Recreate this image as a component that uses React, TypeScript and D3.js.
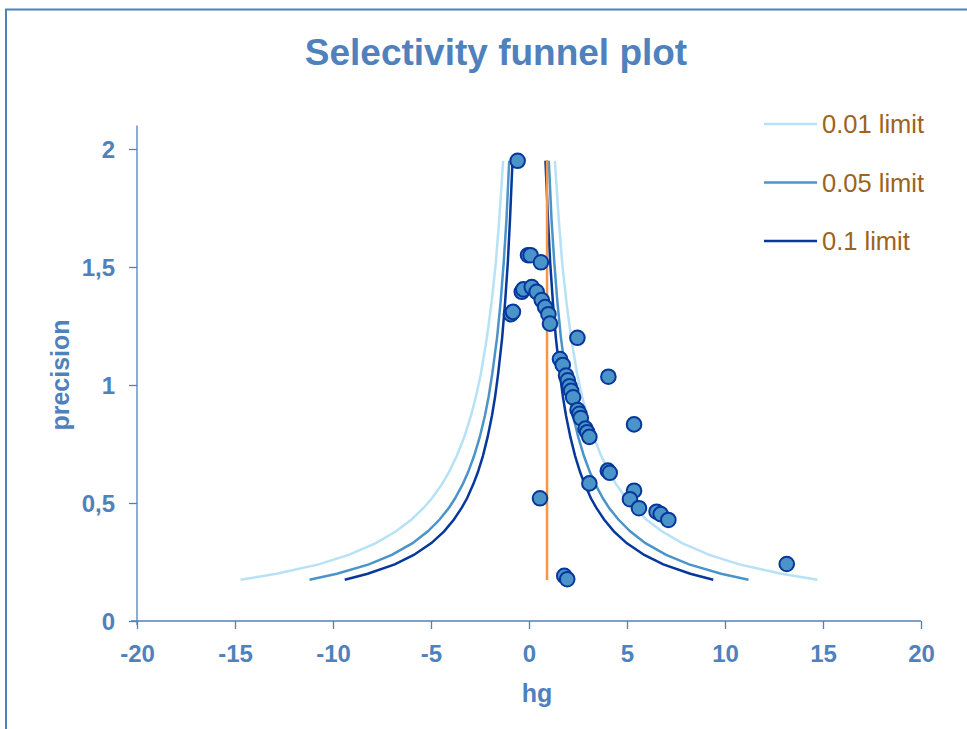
import React, { useRef, useEffect } from "react";
import * as d3 from "d3";

// study estimates: hg (effect) and precision
const studyHg = [
  -0.58, -0.05, 0.08, 0.61, -0.37, -0.29, 0.14, 0.39, 0.65, 0.82, 0.99, 1.07,
  -0.92, -0.82, 2.47, 1.58, 1.72, 1.89, 1.98, 2.07, 2.15, 2.25, 2.48, 2.57,
  2.64, 2.88, 2.97, 3.08, 4.05, 5.36, 4.02, 4.12, 3.08, 0.56, 5.36, 5.15,
  5.61, 6.51, 6.72, 7.11, 1.8, 1.95, 13.15,
];
const studyPrecision = [
  1.95, 1.55, 1.55, 1.52, 1.395, 1.405, 1.415, 1.395, 1.36, 1.33, 1.3, 1.26,
  1.3, 1.31, 1.2, 1.11, 1.085, 1.04, 1.02, 0.995, 0.975, 0.948, 0.894, 0.878,
  0.86, 0.815, 0.8, 0.78, 1.035, 0.833, 0.637, 0.628, 0.583, 0.52, 0.552, 0.516,
  0.478, 0.463, 0.453, 0.428, 0.191, 0.177, 0.2415,
];

// funnel limits: half-width of each limit at these precision levels
const limitPrecision = [
  0.175, 0.2, 0.24, 0.28, 0.33, 0.38, 0.43, 0.48, 0.52, 0.58, 0.63, 0.7, 0.78,
  0.87, 0.95, 1.05, 1.2, 1.35, 1.52, 1.7, 1.95,
];
const limit001 = [
  14.72, 12.88, 10.73, 9.2, 7.81, 6.78, 5.99, 5.37, 4.95, 4.44, 4.09, 3.68, 3.3,
  2.96, 2.71, 2.45, 2.15, 1.91, 1.69, 1.52, 1.32,
];
const limit005 = [
  11.2, 9.8, 8.17, 7.0, 5.94, 5.16, 4.56, 4.08, 3.77, 3.38, 3.11, 2.8, 2.51,
  2.25, 2.06, 1.87, 1.63, 1.45, 1.29, 1.15, 1.01,
];
const limit01 = [
  9.4, 8.23, 6.85, 5.88, 4.98, 4.33, 3.83, 3.43, 3.16, 2.84, 2.61, 2.35, 2.11,
  1.89, 1.73, 1.57, 1.37, 1.22, 1.08, 0.97, 0.84,
];
const meanHg = 0.92;
const meanRange = [0.174, 1.953];

const legendLabels = ["0.01 limit", "0.05 limit", "0.1 limit"];
const xTicks = [-20, -15, -10, -5, 0, 5, 10, 15, 20];
const yTicks = [0, 0.5, 1, 1.5, 2];

const blue = "#4f81bd";
const limitColors = ["#b7e1f6", "#4a94ca", "#06379a"];

export default function App() {
  const ref = useRef<SVGSVGElement>(null);

  useEffect(() => {
    const svg = d3.select(ref.current);
    svg.selectAll("*").remove();
    const font = "Liberation Sans, Arial, sans-serif";

    const x = d3.scaleLinear().domain([-20, 20]).range([137, 921]);
    const y = d3.scaleLinear().domain([0, 2.1]).range([621, 125.4]);

    // outer frame
    svg.append("path")
      .attr("d", "M6,729 L6,9.5 L967,9.5")
      .attr("fill", "none")
      .attr("stroke", blue)
      .attr("stroke-width", 2);

    svg.append("text")
      .attr("x", 496)
      .attr("y", 65)
      .attr("text-anchor", "middle")
      .attr("font-family", font)
      .attr("font-weight", "700")
      .attr("font-size", "37px")
      .attr("fill", blue)
      .text("Selectivity funnel plot");

    // axes
    const xAxis = svg.append("g").attr("transform", `translate(0,${y(0)})`)
      .call(d3.axisBottom(x).tickValues(xTicks).tickSize(8).tickSizeOuter(0).tickPadding(16).tickFormat((d) => String(d)));
    const yAxis = svg.append("g").attr("transform", `translate(${x(-20)},0)`)
      .call(d3.axisLeft(y).tickValues(yTicks).tickSize(8).tickSizeOuter(0).tickPadding(14)
        .tickFormat((d) => String(d).replace(".", ",")));
    [xAxis, yAxis].forEach((g) => {
      g.select(".domain").attr("stroke", blue).attr("stroke-width", 1.3);
      g.selectAll(".tick line").attr("stroke", blue).attr("stroke-width", 1.3);
      g.selectAll(".tick text")
        .attr("fill", blue)
        .attr("font-family", font)
        .attr("font-weight", "700")
        .attr("font-size", "24px");
    });
    yAxis.select(".domain").attr("d", `M0,${y(2.1)}V${y(0) + 4}`);
    xAxis.select(".domain").attr("d", `M-6,0H${x(20) - x(-20)}`).attr("transform", `translate(${x(-20)},0)`);
    yAxis.selectAll(".tick text").attr("dy", "0.35em");

    svg.append("text")
      .attr("x", 537)
      .attr("y", 702)
      .attr("text-anchor", "middle")
      .attr("font-family", font)
      .attr("font-weight", "700")
      .attr("font-size", "25px")
      .attr("fill", blue)
      .text("hg");
    svg.append("text")
      .attr("transform", `translate(69,375) rotate(-90)`)
      .attr("text-anchor", "middle")
      .attr("font-family", font)
      .attr("font-weight", "700")
      .attr("font-size", "25px")
      .attr("fill", blue)
      .text("precision");

    // funnel limits
    const line = d3.line<[number, number]>().x((d) => x(d[0])).y((d) => y(d[1]));
    [limit001, limit005, limit01].forEach((lim, i) => {
      [-1, 1].forEach((side) => {
        const pts = limitPrecision.map((p, j) => [side * lim[j], p] as [number, number]);
        svg.append("path")
          .attr("d", line(pts))
          .attr("fill", "none")
          .attr("stroke", limitColors[i])
          .attr("stroke-width", 2.5);
      });
    });

    svg.append("line")
      .attr("x1", x(meanHg)).attr("x2", x(meanHg))
      .attr("y1", y(meanRange[0])).attr("y2", y(meanRange[1]))
      .attr("stroke", "#f79646")
      .attr("stroke-width", 2.5);

    // studies
    svg.append("g").selectAll("circle")
      .data(studyHg.map((h, i) => [h, studyPrecision[i]]))
      .join("circle")
      .attr("cx", (d) => x(d[0]))
      .attr("cy", (d) => y(d[1]))
      .attr("r", 7.3)
      .attr("fill", "#4a94ca")
      .attr("stroke", "#06379a")
      .attr("stroke-width", 2);

    // legend
    const legend = svg.append("g");
    legendLabels.forEach((lab, i) => {
      const ly = 124 + i * 58.5;
      legend.append("line")
        .attr("x1", 764).attr("x2", 817).attr("y1", ly).attr("y2", ly)
        .attr("stroke", limitColors[i]).attr("stroke-width", 2.5);
      legend.append("text")
        .attr("x", 822).attr("y", ly).attr("dy", "0.36em")
        .attr("font-family", font)
        .attr("font-size", "25.5px")
        .attr("fill", "#9c6321")
        .text(lab);
    });
  }, []);

  return (
    <svg
      ref={ref}
      width={967}
      height={729}
      style={{ position: "absolute", left: 0, top: 0, background: "#fff" }}
    />
  );
}
